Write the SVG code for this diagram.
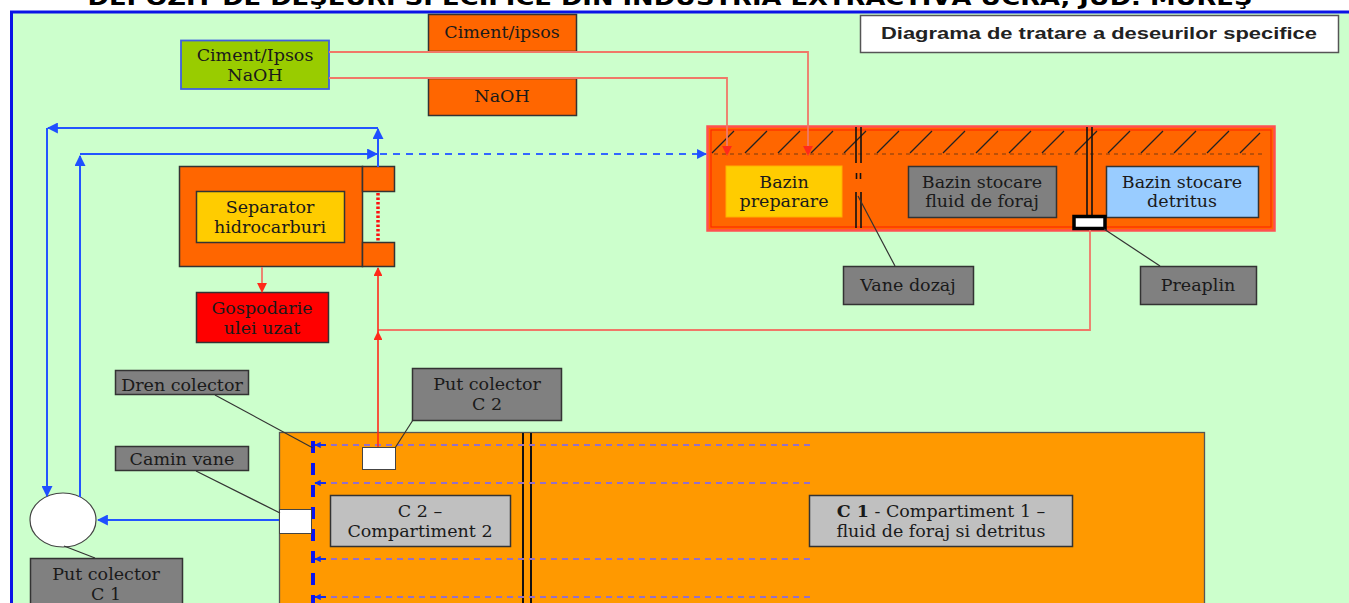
<svg xmlns="http://www.w3.org/2000/svg" width="1349" height="603" viewBox="0 0 1349 603">
<style>
.srf{font-family:"DejaVu Serif","Liberation Serif",serif;font-size:17.5px;fill:#1a1a1a;text-anchor:middle}
.box{stroke:#333;stroke-width:1.5}
.org{fill:#FF6600}
.gray{fill:#808080}
.lgray{fill:#C0C0C0}
.lead{stroke:#333;stroke-width:1.2;fill:none}
.red{stroke:#FF2A1A;stroke-width:1.6;fill:none}
.salmon{stroke:#F07868;stroke-width:1.8;fill:none}
.blue{stroke:#2255FF;stroke-width:2;fill:none}
.purp{stroke:#9370C8;stroke-width:2.2;stroke-dasharray:6 5;fill:none}
.dbl{stroke:#111;stroke-width:1.6;fill:none}
</style>
<defs>
<marker id="ar" viewBox="0 0 10 10" refX="9" refY="5" markerWidth="5.5" markerHeight="5.5" orient="auto"><path d="M0,0L10,5L0,10z" fill="#FF2A1A"/></marker>
<marker id="ab" viewBox="0 0 10 10" refX="9" refY="5" markerWidth="5.5" markerHeight="5.5" orient="auto"><path d="M0,0L10,5L0,10z" fill="#1F4FFF"/></marker>
<marker id="abs" viewBox="0 0 10 10" refX="9" refY="5" markerWidth="3.2" markerHeight="3.2" orient="auto"><path d="M0,0L10,5L0,10z" fill="#1030EE"/></marker>
</defs>

<!-- background and frame -->
<rect x="0" y="0" width="1349" height="603" fill="#ffffff"/>
<rect x="11" y="12" width="1340" height="600" fill="#CCFFCC"/>
<line x1="10" y1="12" x2="1349" y2="12" stroke="#0A14E6" stroke-width="3"/>
<line x1="11.5" y1="11" x2="11.5" y2="603" stroke="#0A14E6" stroke-width="3"/>
<text x="670" y="5" font-family="'DejaVu Sans','Liberation Sans',sans-serif" font-weight="bold" font-size="22" text-anchor="middle" textLength="1165" lengthAdjust="spacingAndGlyphs" fill="#000">DEPOZIT DE DEŞEURI SPECIFICE DIN INDUSTRIA EXTRACTIVĂ UCRA, JUD. MUREŞ</text>

<g id="legend-title">
<rect x="860.5" y="15.5" width="478" height="37" fill="#fff" stroke="#555" stroke-width="1.5"/>
<text x="1099" y="39" font-family="'Liberation Sans',Arial,sans-serif" font-weight="bold" font-size="16.5" text-anchor="middle" textLength="436" lengthAdjust="spacingAndGlyphs" fill="#222">Diagrama de tratare a deseurilor specifice</text>
</g>

<g id="ciment-ipsos">
<rect class="box org" x="428.5" y="14.5" width="148" height="37"/>
<text class="srf" x="502" y="38">Ciment/ipsos</text>
</g>
<g id="naoh">
<rect class="box org" x="428.5" y="78.5" width="148" height="37"/>
<text class="srf" x="502" y="102">NaOH</text>
</g>
<g id="ciment-naoh">
<rect x="181" y="40.5" width="148" height="48.5" fill="#99CC00" stroke="#4060E0" stroke-width="1.8"/>
<text class="srf" x="255" y="61">Ciment/Ipsos</text>
<text class="srf" x="255" y="81">NaOH</text>
</g>

<!-- tank -->
<g id="bazin">
<rect x="707.5" y="126.5" width="567" height="104" fill="#FF6600" stroke="#FF5050" stroke-width="2.5"/>
<rect x="711" y="130" width="560" height="97" fill="none" stroke="#FF2A00" stroke-width="1.2"/>
<path d="M712,153l22,-22M745,153l22,-22M778,153l22,-22M811,153l22,-22M844,153l22,-22M877,153l22,-22M910,153l22,-22M943,153l22,-22M976,153l22,-22M1009,153l22,-22M1042,153l22,-22M1075,153l22,-22M1108,153l22,-22M1141,153l22,-22M1174,153l22,-22M1207,153l22,-22M1240,153l20,-20" stroke="#222" stroke-width="1.3" fill="none"/>
<line x1="714" y1="154" x2="1262" y2="154" stroke="#7a3a10" stroke-width="1.2" stroke-dasharray="4 4"/>
<path d="M856,127V163M861,127V163M856,192V228M861,192V228" class="dbl"/>
<path d="M856.5,173v6M860.5,173v6" stroke="#111" stroke-width="1.6"/>
<path d="M1087,127V216M1092,127V216" class="dbl"/>
</g>
<g id="bazin-preparare">
<rect x="726" y="166" width="116" height="51" fill="#FFCC00" stroke="#FFB000" stroke-width="1"/>
<text class="srf" x="784" y="188">Bazin</text>
<text class="srf" x="784" y="207">preparare</text>
</g>
<g id="bazin-stocare-fluid">
<rect class="box gray" x="908.5" y="166.5" width="148" height="51"/>
<text class="srf" x="982" y="188">Bazin stocare</text>
<text class="srf" x="982" y="207">fluid de foraj</text>
</g>
<g id="bazin-stocare-detritus">
<rect class="box" x="1106.5" y="166.5" width="152" height="51" fill="#99CCFF"/>
<text class="srf" x="1182" y="188">Bazin stocare</text>
<text class="srf" x="1182" y="207">detritus</text>
</g>
<g id="preaplin-marker">
<rect x="1074" y="216.5" width="31" height="12" fill="#fff" stroke="#000" stroke-width="3.5"/>
</g>
<g id="vane-dozaj">
<rect class="box gray" x="843.5" y="266.5" width="130" height="38"/>
<text class="srf" x="908" y="291">Vane dozaj</text>
</g>
<g id="preaplin">
<rect class="box gray" x="1140.5" y="266.5" width="116" height="38"/>
<text class="srf" x="1198" y="291">Preaplin</text>
</g>

<!-- separator -->
<g id="separator">
<rect class="box org" x="179.5" y="166.5" width="183" height="100"/>
<rect class="box org" x="362.5" y="166.5" width="32" height="25"/>
<rect class="box org" x="362.5" y="242.5" width="32" height="24"/>
<rect class="box" x="196.5" y="191.5" width="148" height="51" fill="#FFCC00"/>
<text class="srf" x="270" y="213">Separator</text>
<text class="srf" x="270" y="233">hidrocarburi</text>
</g>
<g id="gospodarie">
<rect class="box" x="196.5" y="292.5" width="132" height="50" fill="#FF0000"/>
<text class="srf" x="262" y="314">Gospodarie</text>
<text class="srf" x="262" y="334">ulei uzat</text>
</g>

<!-- compartments -->
<g id="compartimente">
<rect x="279.5" y="432.5" width="925" height="180" fill="#FF9900" stroke="#555" stroke-width="1.3"/>
<path d="M523,433V603M531,433V603" stroke="#111" stroke-width="2" fill="none"/>
<line x1="313" y1="441" x2="313" y2="603" stroke="#0A14F0" stroke-width="4" stroke-dasharray="12 10"/>
<line class="purp" x1="810" y1="445" x2="318" y2="445"/>
<line class="purp" x1="810" y1="483" x2="318" y2="483"/>
<line class="purp" x1="810" y1="559" x2="318" y2="559"/>
<line class="purp" x1="810" y1="597" x2="318" y2="597"/>
<line x1="326" y1="445" x2="315" y2="445" stroke="#1030EE" stroke-width="2" marker-end="url(#abs)"/>
<line x1="326" y1="483" x2="315" y2="483" stroke="#1030EE" stroke-width="2" marker-end="url(#abs)"/>
<line x1="326" y1="559" x2="315" y2="559" stroke="#1030EE" stroke-width="2" marker-end="url(#abs)"/>
<line x1="326" y1="597" x2="315" y2="597" stroke="#1030EE" stroke-width="2" marker-end="url(#abs)"/>
</g>
<g id="c2">
<rect class="box lgray" x="330.5" y="495.5" width="180" height="51"/>
<text class="srf" x="420" y="517">C 2 –</text>
<text class="srf" x="420" y="537">Compartiment 2</text>
</g>
<g id="c1">
<rect class="box lgray" x="809.5" y="495.5" width="263" height="51"/>
<text class="srf" x="941" y="517"><tspan font-weight="bold">C 1</tspan> - Compartiment 1 –</text>
<text class="srf" x="941" y="537">fluid de foraj si detritus</text>
</g>
<g id="put-c2-box">
<rect x="362.5" y="447.5" width="33" height="22" fill="#fff" stroke="#444" stroke-width="1"/>
</g>
<g id="camin-vane-box">
<rect x="279.5" y="509.5" width="32" height="24" fill="#fff" stroke="#444" stroke-width="1"/>
</g>
<g id="put-c1-ellipse">
<ellipse cx="63" cy="520" rx="33" ry="27" fill="#fff" stroke="#444" stroke-width="1.2"/>
</g>

<!-- labels -->
<g id="dren-colector">
<rect class="box gray" x="115.5" y="370.5" width="133" height="24"/>
<text class="srf" x="182" y="391">Dren colector</text>
</g>
<g id="camin-vane">
<rect class="box gray" x="115.5" y="446.5" width="133" height="24"/>
<text class="srf" x="182" y="465">Camin vane</text>
</g>
<g id="put-colector-c2">
<rect class="box gray" x="412.5" y="368.5" width="149" height="52"/>
<text class="srf" x="487" y="390">Put colector</text>
<text class="srf" x="487" y="410">C 2</text>
</g>
<g id="put-colector-c1">
<rect class="box gray" x="30.5" y="558.5" width="152" height="52"/>
<text class="srf" x="106" y="580">Put colector</text>
<text class="srf" x="106" y="600">C 1</text>
</g>

<!-- connectors -->
<g id="connectors">
<polyline class="salmon" points="329,52 808,52 808,155" marker-end="url(#ar)"/>
<polyline class="salmon" points="329,78 727,78 727,155" marker-end="url(#ar)"/>
<polyline class="salmon" points="1090,230 1090,330 378,330"/>
<line class="red" x1="378" y1="447" x2="378" y2="332" marker-end="url(#ar)"/>
<line class="red" x1="378" y1="332" x2="378" y2="268" marker-end="url(#ar)"/>
<line class="salmon" x1="262" y1="267" x2="262" y2="292" marker-end="url(#ar)"/>
<line x1="378" y1="193" x2="378" y2="242" stroke="#FF1010" stroke-width="3.5" stroke-dasharray="2.5 2"/>
<line class="blue" x1="378" y1="167" x2="378" y2="129" marker-end="url(#ab)"/>
<line class="blue" x1="378" y1="128" x2="48" y2="128" marker-end="url(#ab)"/>
<line class="blue" x1="47" y1="128" x2="47" y2="496" marker-end="url(#ab)"/>
<line class="blue" x1="80" y1="497" x2="80" y2="156" marker-end="url(#ab)"/>
<line class="blue" x1="80" y1="154" x2="377" y2="154" marker-end="url(#ab)"/>
<line x1="380" y1="154" x2="706" y2="154" stroke="#3366FF" stroke-width="1.8" stroke-dasharray="7 6" marker-end="url(#ab)"/>
<line class="blue" x1="279" y1="520" x2="98" y2="520" marker-end="url(#ab)"/>
<line class="lead" x1="215" y1="395" x2="313" y2="448"/>
<line class="lead" x1="196" y1="471" x2="280" y2="513"/>
<line class="lead" x1="413" y1="420" x2="395" y2="448"/>
<line class="lead" x1="64" y1="546" x2="95" y2="558"/>
<line class="lead" x1="858" y1="196" x2="895" y2="266"/>
<line class="lead" x1="1104" y1="229" x2="1160" y2="266"/>
</g>
</svg>
